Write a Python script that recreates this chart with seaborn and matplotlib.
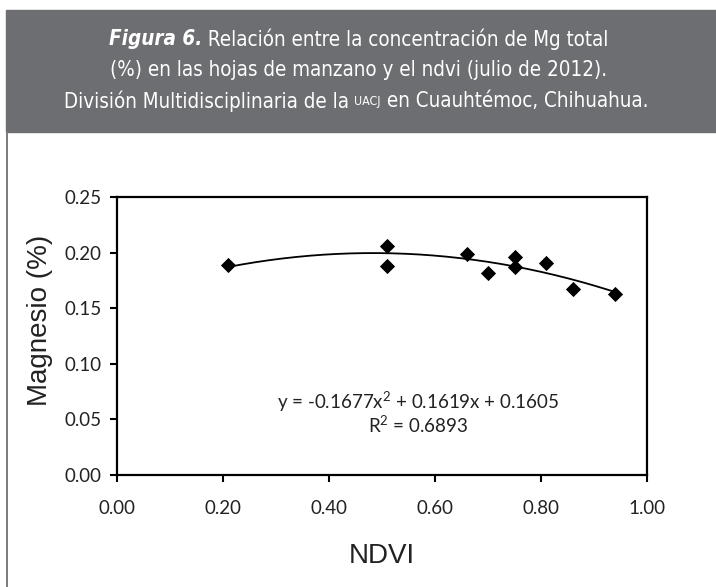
import matplotlib
matplotlib.use("Agg")
import matplotlib.pyplot as plt
from matplotlib.patches import Rectangle
from matplotlib.lines import Line2D
from matplotlib import font_manager
import numpy as np
import pandas as pd
import seaborn as sns

# NDVI vs. total Mg (%) in apple leaves, July 2012
ndvi = [0.21, 0.51, 0.51, 0.66, 0.70, 0.75, 0.75, 0.81, 0.86, 0.94]
magnesio = [0.189, 0.206, 0.188, 0.199, 0.182, 0.196, 0.187, 0.191, 0.167, 0.163]

# polynomial trend (order 2) as reported on the chart
coef_a, coef_b, coef_c = -0.1677, 0.1619, 0.1605
r2 = 0.6893

x_ticks = [0.0, 0.2, 0.4, 0.6, 0.8, 1.0]
y_ticks = [0.0, 0.05, 0.10, 0.15, 0.20, 0.25]

sns.set_theme(style="white")
names = {f.name for f in font_manager.fontManager.ttflist}
tick_font = "Lato" if "Lato" in names else "DejaVu Sans"
label_font = "Liberation Sans" if "Liberation Sans" in names else "DejaVu Sans"
plt.rcParams["font.family"] = [tick_font, "DejaVu Sans"]
plt.rcParams["mathtext.fontset"] = "custom"
plt.rcParams["mathtext.rm"] = tick_font
plt.rcParams["mathtext.it"] = tick_font

W, H = 716, 587
fig = plt.figure(figsize=(W / 100, H / 100), dpi=100)
fig.patch.set_facecolor("white")

# header band
gray = "#6d6e71"
fig.patches.append(Rectangle((6 / W, 1 - 132 / H), 710 / W, 122 / H,
                             transform=fig.transFigure, color=gray, zorder=0))
fig.lines.append(Line2D([6.5 / W, 6.5 / W], [0, 1 - 132 / H],
                        transform=fig.transFigure, color="#7a7b7e", lw=1.4))

renderer = fig.canvas.get_renderer()


def rich_line(parts, xc, yc):
    """Place a sequence of differently styled text runs centred at (xc, yc) px."""
    texts = []
    for s, kw in parts:
        t = fig.text(0, 1 - yc / H, s, color="white", va="center", ha="left",
                     transform=fig.transFigure, **kw)
        texts.append(t)
    widths = [t.get_window_extent(renderer).width for t in texts]
    total = sum(widths)
    x = xc - total / 2
    for t, w in zip(texts, widths):
        t.set_x(x / W)
        x += w


fs_head = 14.8
base = dict(family="DejaVu Sans", stretch="condensed", fontsize=fs_head)
rich_line([("Figura 6.", dict(family="DejaVu Sans", stretch="condensed", fontsize=fs_head,
                              fontweight="bold", fontstyle="italic")),
           ("\u00a0Relación entre la concentración de Mg total", base)], 359, 39)
rich_line([("(%) en las hojas de manzano y el ndvi (julio de 2012).", base)], 359, 70)
rich_line([("División Multidisciplinaria de la\u00a0", base),
           ("UACJ", dict(family="DejaVu Sans", stretch="condensed", fontsize=fs_head * 0.6)),
           ("\u00a0en Cuauhtémoc, Chihuahua.", base)], 356, 101)

# plot area
left, right, top, bottom = 117, 647, 197, 475
ax = fig.add_axes([left / W, 1 - bottom / H, (right - left) / W, (bottom - top) / H])

df = pd.DataFrame({"NDVI": ndvi, "Magnesio": magnesio})
xs = np.linspace(min(ndvi), max(ndvi), 200)
trend = pd.DataFrame({"NDVI": xs, "Magnesio": coef_a * xs ** 2 + coef_b * xs + coef_c})

sns.lineplot(data=trend, x="NDVI", y="Magnesio", ax=ax, color="black", lw=1.3, zorder=2)
sns.scatterplot(data=df, x="NDVI", y="Magnesio", ax=ax, marker="D", s=60,
                color="black", edgecolor="black", linewidth=0, zorder=3)

ax.set_xlim(0, 1.0)
ax.set_ylim(0, 0.25)
ax.set_xticks(x_ticks)
ax.set_yticks(y_ticks)
ax.set_xticklabels([f"{v:.2f}" for v in x_ticks])
ax.set_yticklabels([f"{v:.2f}" for v in y_ticks])

for sp in ax.spines.values():
    sp.set_visible(True)
    sp.set_color("black")
    sp.set_linewidth(1.6)

ax.tick_params(axis="both", which="major", direction="out", length=5, width=1.5,
               colors="black", labelsize=13.5)
ax.tick_params(axis="x", pad=13, bottom=True, top=False)
ax.tick_params(axis="y", pad=6, left=True, right=False)
for lab in ax.get_xticklabels() + ax.get_yticklabels():
    lab.set_color("#222222")

ax.set_xlabel("NDVI", family=label_font, fontsize=20, color="#222222")
ax.set_ylabel("Magnesio (%)", family=label_font, fontsize=20, color="#222222")
ax.xaxis.set_label_coords(0.5, -0.245)
ax.yaxis.set_label_coords(-0.121, 0.558)

eq = f"y = {coef_a:.4f}x$^{{2}}$ + {coef_b:.4f}x + {coef_c:.4f}"
ax.text(0.568, 0.0656, eq, ha="center", va="center", fontsize=13.5, color="#222222",
        transform=ax.transData)
ax.text(0.568, 0.045, f"R$^{{2}}$ = {r2:.4f}", ha="center", va="center", fontsize=13.5,
        color="#222222", transform=ax.transData)

fig.savefig("out.png", dpi=100, facecolor="white")
